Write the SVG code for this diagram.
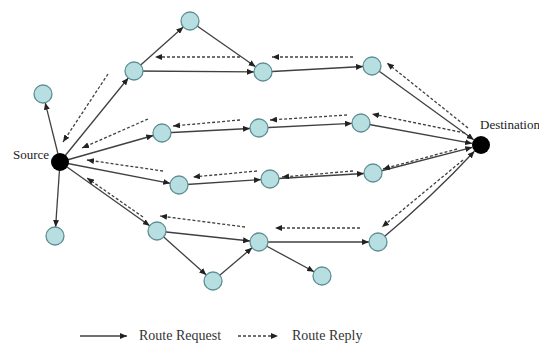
<svg xmlns="http://www.w3.org/2000/svg" width="539" height="343" viewBox="0 0 539 343">
<style>
.n{fill:#b7dfe2;stroke:#5f8f93;stroke-width:1.3}
.t{fill:#000;stroke:none}
.s{fill:none;stroke:#404040;stroke-width:1.3;marker-end:url(#a)}
.d{fill:none;stroke:#404040;stroke-width:1.3;stroke-dasharray:3 2;marker-end:url(#a)}
.lbl{font-family:"Liberation Serif","Times New Roman",serif;font-size:13px;fill:#222}
.lg{font-family:"Liberation Serif","Times New Roman",serif;font-size:14px;fill:#333}
</style>
<defs>
<marker id="a" markerUnits="userSpaceOnUse" markerWidth="7" markerHeight="6" refX="7" refY="3" orient="auto">
<path d="M0,0 L7,3 L0,6 z" fill="#222"/>
</marker>
</defs>
<g id="connectors">
<line class="s" x1="60" y1="162" x2="45.2" y2="102.7"/>
<line class="s" x1="60" y1="162" x2="55.6" y2="227"/>
<line class="s" x1="60" y1="162" x2="128.3" y2="78"/>
<line class="s" x1="134" y1="71" x2="183.3" y2="27"/>
<line class="s" x1="190" y1="21" x2="255.6" y2="66.8"/>
<line class="s" x1="134" y1="71" x2="254" y2="71.9"/>
<line class="s" x1="263" y1="72" x2="363" y2="66.5"/>
<line class="s" x1="372" y1="66" x2="473.7" y2="139.7"/>
<line class="s" x1="60" y1="162" x2="153.3" y2="135.5"/>
<line class="s" x1="162" y1="133" x2="250" y2="128.5"/>
<line class="s" x1="259" y1="128" x2="352" y2="123.4"/>
<line class="s" x1="361" y1="123" x2="472.1" y2="143.4"/>
<line class="s" x1="60" y1="162" x2="170.2" y2="183.3"/>
<line class="s" x1="179" y1="185" x2="261" y2="179.6"/>
<line class="s" x1="270" y1="179" x2="364" y2="173.5"/>
<line class="s" x1="373" y1="173" x2="472.3" y2="147.3"/>
<line class="s" x1="60" y1="162" x2="149.7" y2="225.8"/>
<line class="s" x1="157" y1="231" x2="250.1" y2="241"/>
<line class="s" x1="157" y1="231" x2="206.3" y2="275"/>
<line class="s" x1="213" y1="281" x2="252.1" y2="247.8"/>
<line class="s" x1="259" y1="242" x2="369" y2="242"/>
<line class="s" x1="259" y1="242" x2="314.1" y2="271.7"/>
<path class="s" d="M378,242 Q433,196 474.4,151.2"/>
<line class="d" x1="468" y1="128" x2="387" y2="63"/>
<line class="d" x1="353" y1="57" x2="272" y2="57"/>
<line class="d" x1="240" y1="57" x2="155" y2="57"/>
<line class="d" x1="108" y1="74" x2="63" y2="142"/>
<line class="d" x1="148" y1="119" x2="82" y2="148"/>
<line class="d" x1="240" y1="120" x2="173" y2="126"/>
<line class="d" x1="347" y1="115" x2="270" y2="120"/>
<line class="d" x1="465" y1="133" x2="372" y2="114"/>
<line class="d" x1="457" y1="149" x2="383" y2="169"/>
<line class="d" x1="353" y1="171" x2="282" y2="177"/>
<line class="d" x1="257" y1="171" x2="193" y2="177"/>
<line class="d" x1="163" y1="171" x2="87" y2="160"/>
<line class="d" x1="143" y1="217" x2="87" y2="178"/>
<line class="d" x1="245" y1="227" x2="160" y2="216"/>
<line class="d" x1="360" y1="228" x2="275" y2="228"/>
<line class="d" x1="463" y1="160" x2="382" y2="227"/>
</g>
<g id="source"><circle class="t" cx="60" cy="162" r="9"/><text class="lbl" x="13" y="159">Source</text></g>
<g id="destination"><circle class="t" cx="481" cy="145" r="9"/><text class="lbl" x="480" y="129">Destination</text></g>
<g id="nA"><circle class="n" cx="190" cy="21" r="9"/></g>
<g id="nB"><circle class="n" cx="134" cy="71" r="9"/></g>
<g id="nC"><circle class="n" cx="263" cy="72" r="9"/></g>
<g id="nD"><circle class="n" cx="372" cy="66" r="9"/></g>
<g id="nE"><circle class="n" cx="43" cy="94" r="9"/></g>
<g id="nL"><circle class="n" cx="55" cy="236" r="9"/></g>
<g id="nF"><circle class="n" cx="162" cy="133" r="9"/></g>
<g id="nG"><circle class="n" cx="259" cy="128" r="9"/></g>
<g id="nH"><circle class="n" cx="361" cy="123" r="9"/></g>
<g id="nI"><circle class="n" cx="179" cy="185" r="9"/></g>
<g id="nJ"><circle class="n" cx="270" cy="179" r="9"/></g>
<g id="nK"><circle class="n" cx="373" cy="173" r="9"/></g>
<g id="nM"><circle class="n" cx="157" cy="231" r="9"/></g>
<g id="nN"><circle class="n" cx="259" cy="242" r="9"/></g>
<g id="nO"><circle class="n" cx="213" cy="281" r="9"/></g>
<g id="nP"><circle class="n" cx="322" cy="276" r="9"/></g>
<g id="nQ"><circle class="n" cx="378" cy="242" r="9"/></g>
<g id="legend">
<line class="s" x1="80" y1="336" x2="127" y2="336"/>
<text class="lg" x="139" y="340">Route Request</text>
<line class="d" x1="238" y1="336" x2="278" y2="336"/>
<text class="lg" x="292" y="340">Route Reply</text>
</g>
</svg>
